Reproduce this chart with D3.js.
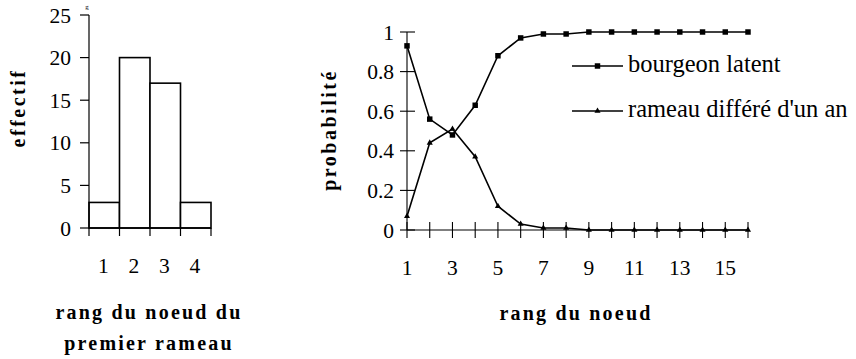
<!DOCTYPE html>
<html><head><meta charset="utf-8">
<script src="https://cdn.jsdelivr.net/npm/d3@7"></script>
<style>body{margin:0;background:#fff}svg{display:block}</style>
</head><body>
<script>
// Left chart data
const barCategories = ["1","2","3","4"];
const barValues = [3, 20, 17, 3];
const barYTicks = [0, 5, 10, 15, 20, 25];
// Right chart data
const nodeRanks = [1,2,3,4,5,6,7,8,9,10,11,12,13,14,15,16];
const bourgeonLatent = [0.93,0.56,0.48,0.63,0.88,0.97,0.99,0.99,1,1,1,1,1,1,1,1];
const rameauDiffere = [0.07,0.44,0.51,0.37,0.12,0.03,0.01,0.01,0,0,0,0,0,0,0,0];
const probTicks = [0,0.2,0.4,0.6,0.8,1];
const probTickLabels = ["0","0.2","0.4","0.6","0.8","1"];
const rankTickLabels = [1,3,5,7,9,11,13,15];
const seriesNames = ["bourgeon latent","rameau différé d'un an"];

const W=856,H=359;
const FONT="'Liberation Serif', 'DejaVu Serif', serif";
const svg=d3.select("body").append("svg").attr("width",W).attr("height",H)
  .attr("font-family",FONT);

// top text fragment
svg.append("text").attr("x",87).attr("y",9).attr("text-anchor","middle").attr("font-size",7).text("g");

// ---------- Left histogram ----------
const xb=d3.scaleBand().domain(barCategories).range([89,211]).paddingInner(0).paddingOuter(0);
const yb=d3.scaleLinear().domain([0,25]).range([228,15]);
const gl=svg.append("g");
gl.selectAll("rect").data(barValues).join("rect")
  .attr("x",(d,i)=>xb(barCategories[i])).attr("width",xb.bandwidth())
  .attr("y",d=>yb(d)).attr("height",d=>yb(0)-yb(d))
  .attr("fill","#fff").attr("stroke","#000").attr("stroke-width",1.6);
gl.append("line").attr("x1",89).attr("x2",89).attr("y1",yb(25)).attr("y2",yb(0)).attr("stroke","#000").attr("stroke-width",1.2);
gl.selectAll(".yt").data(barYTicks).join("line").attr("x1",80).attr("x2",89)
  .attr("y1",d=>yb(d)).attr("y2",d=>yb(d)).attr("stroke","#000").attr("stroke-width",1.2);
gl.selectAll(".yl").data(barYTicks).join("text").attr("x",71).attr("y",d=>yb(d)+7.5)
  .attr("text-anchor","end").attr("font-size",21.5).text(d=>d);
gl.append("line").attr("x1",89).attr("x2",211).attr("y1",yb(0)).attr("y2",yb(0)).attr("stroke","#000").attr("stroke-width",1.6);
const bounds=barCategories.map(c=>xb(c)).concat([xb(barCategories[barCategories.length-1])+xb.bandwidth()]);
gl.selectAll(".xt").data(bounds).join("line").attr("x1",d=>d).attr("x2",d=>d)
  .attr("y1",yb(0)).attr("y2",yb(0)+8).attr("stroke","#000").attr("stroke-width",1.2);
gl.selectAll(".xl").data(barCategories).join("text").attr("x",d=>xb(d)+xb.bandwidth()/2-1).attr("y",273)
  .attr("text-anchor","middle").attr("font-size",21.5).text(d=>d);
gl.append("text").attr("transform","translate(25,108) rotate(-90)").attr("text-anchor","middle")
  .attr("font-size",20).attr("font-weight","bold").attr("letter-spacing",2.5).text("effectif");
gl.append("text").attr("x",149).attr("y",319).attr("text-anchor","middle").attr("font-size",20)
  .attr("font-weight","bold").attr("letter-spacing",2.2).text("rang du noeud du");
gl.append("text").attr("x",149).attr("y",350).attr("text-anchor","middle").attr("font-size",20)
  .attr("font-weight","bold").attr("letter-spacing",2.2).text("premier rameau");

// ---------- Right line chart ----------
const xr=d3.scaleLinear().domain([1,16]).range([407,748]);
const yr=d3.scaleLinear().domain([0,1]).range([230,32]);
const gr=svg.append("g");
gr.append("line").attr("x1",407).attr("x2",407).attr("y1",yr(1)).attr("y2",yr(0)).attr("stroke","#000").attr("stroke-width",1.1);
gr.selectAll(".yt").data(probTicks).join("line").attr("x1",400).attr("x2",415)
  .attr("y1",d=>yr(d)).attr("y2",d=>yr(d)).attr("stroke","#000").attr("stroke-width",1.1);
gr.selectAll(".yl").data(probTicks).join("text").attr("x",394).attr("y",d=>yr(d)+7.5)
  .attr("text-anchor","end").attr("font-size",21.5).text((d,i)=>probTickLabels[i]);
gr.append("line").attr("x1",xr(1)).attr("x2",xr(16)).attr("y1",yr(0)).attr("y2",yr(0)).attr("stroke","#000").attr("stroke-width",1.1);
gr.selectAll(".xt").data(nodeRanks).join("line").attr("x1",d=>xr(d)).attr("x2",d=>xr(d))
  .attr("y1",yr(0)-8).attr("y2",yr(0)+8).attr("stroke","#000").attr("stroke-width",1.1);
gr.selectAll(".xl").data(rankTickLabels).join("text").attr("x",d=>xr(d)).attr("y",275)
  .attr("text-anchor","middle").attr("font-size",21.5).text(d=>d);

const line=d3.line().x((d,i)=>xr(nodeRanks[i])).y(d=>yr(d));
gr.append("path").attr("d",line(bourgeonLatent)).attr("fill","none").attr("stroke","#000").attr("stroke-width",1.6);
gr.append("path").attr("d",line(rameauDiffere)).attr("fill","none").attr("stroke","#000").attr("stroke-width",1.6);
const sq=d3.symbol().type(d3.symbolSquare).size(30);
const tri=d3.symbol().type(d3.symbolTriangle).size(16);
gr.selectAll(".sq").data(bourgeonLatent).join("path").attr("d",sq)
  .attr("transform",(d,i)=>`translate(${xr(nodeRanks[i])},${yr(d)})`).attr("fill","#000");
gr.selectAll(".tr").data(rameauDiffere).join("path").attr("d",tri)
  .attr("transform",(d,i)=>`translate(${xr(nodeRanks[i])},${yr(d)})`).attr("fill","#000");

const legY=[66,111];
seriesNames.forEach((n,i)=>{
  gr.append("line").attr("x1",572).attr("x2",623).attr("y1",legY[i]).attr("y2",legY[i]).attr("stroke","#000").attr("stroke-width",1.6);
  gr.append("path").attr("d",i===0?sq():tri()).attr("transform",`translate(597.5,${legY[i]})`).attr("fill","#000");
  gr.append("text").attr("x",628).attr("y",legY[i]+6).attr("font-size",24.5).text(n);
});

gr.append("text").attr("transform","translate(336,130) rotate(-90)").attr("text-anchor","middle")
  .attr("font-size",20).attr("font-weight","bold").attr("letter-spacing",2.5).text("probabilité");
gr.append("text").attr("x",576).attr("y",320).attr("text-anchor","middle").attr("font-size",20)
  .attr("font-weight","bold").attr("letter-spacing",2.2).text("rang du noeud");
</script>
</body></html>
